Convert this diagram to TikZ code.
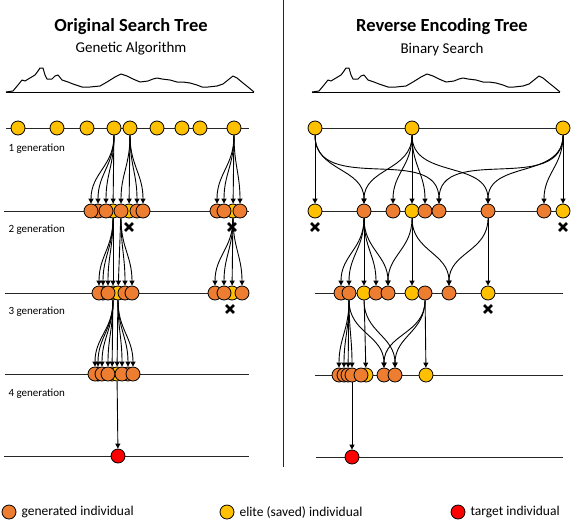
\documentclass[tikz,border=0pt]{standalone}
\usepackage{fontspec}
\setmainfont{Carlito}
\usetikzlibrary{arrows.meta,shapes.misc}
\definecolor{orgC}{HTML}{ED7D31}
\definecolor{yelC}{HTML}{FFC000}
\definecolor{redC}{HTML}{FF0000}
\begin{document}
\begin{tikzpicture}[x=1pt,y=1pt,
 ind/.style={circle,draw=black,line width=0.8pt,minimum size=14pt,inner sep=0pt},
 gen/.style={ind,fill=orgC}, eli/.style={ind,fill=yelC}, tgt/.style={ind,fill=redC},
 arr/.style={-{Triangle[length=5pt,width=5pt]},line width=0.9pt},
 kid/.style={arr,out=-90,in=90,looseness=1.1},
 row/.style={line width=1pt,draw=black!85},
 xmark/.style={cross out,draw=black,line width=2.8pt,minimum size=5pt,inner sep=0pt},
 lab/.style={anchor=west,font=\fontsize{11}{13}\selectfont},
 leg/.style={anchor=west,font=\fontsize{13.5}{16}\selectfont},
 ttl/.style={font=\bfseries\fontsize{18.5}{22}\selectfont},
 sub/.style={font=\fontsize{15}{18}\selectfont},
 land/.style={line width=1pt,line join=round}]
\useasboundingbox (0,0) rectangle (572,-520);

% titles
\node[ttl] (t1) at (131,-27) {Original Search Tree};
\node[sub] (s1) at (131,-49) {Genetic Algorithm};
\node[ttl] (t2) at (442,-27) {Reverse Encoding Tree};
\node[sub] (s2) at (442,-49) {Binary Search};

% landscapes
\foreach \dx in {0,306}{
\begin{scope}[xshift=\dx pt]
\draw[land] plot coordinates {(6,-92) (13,-91) (18,-85) (22,-80) (25,-81) (30,-78) (35,-75) (38,-71) (40,-68) (43,-68) (45,-75) (47,-79) (52,-79) (55,-76) (58,-75) (62,-80) (68,-82) (73,-84) (82,-87) (90,-87) (100,-86) (107,-82) (115,-77) (121,-74) (127,-76) (133,-79) (140,-82) (148,-81) (153,-79) (157,-78) (162,-79) (170,-80) (177,-82) (183,-82) (190,-83) (197,-85) (202,-87) (208,-87) (217,-86) (223,-84) (228,-80) (233,-76) (237,-78) (243,-83) (248,-87) (254,-92)};
\draw[land] (6,-92) -- (254,-92);
\end{scope}}

% divider
\coordinate (dv1) at (283,0); \coordinate (dv2) at (283,-467);
\draw[line width=1pt,black!85] (dv1) -- (dv2);

% generation rows (left)
\coordinate (la1) at (6,-128); \coordinate (lb1) at (249,-128);
\coordinate (la2) at (4,-211); \coordinate (lb2) at (249,-211);
\coordinate (la3) at (5,-293); \coordinate (lb3) at (249,-293);
\coordinate (la4) at (5,-374); \coordinate (lb4) at (249,-374);
\coordinate (la5) at (4,-456); \coordinate (lb5) at (249,-456);
\foreach \i in {1,...,5}{\draw[row] (la\i) -- (lb\i);}
% rows (right)
\coordinate (ra1) at (315,-128); \coordinate (rb1) at (563,-128);
\coordinate (ra2) at (315,-211); \coordinate (rb2) at (563,-211);
\coordinate (ra3) at (315,-293); \coordinate (rb3) at (563,-293);
\coordinate (ra4) at (315,-375); \coordinate (rb4) at (563,-375);
\coordinate (ra5) at (316,-457); \coordinate (rb5) at (563,-457);
\foreach \i in {1,...,5}{\draw[row] (ra\i) -- (rb\i);}

% generation labels
\node[lab] (g1) at (5,-149) {1 generation};
\node[lab] (g2) at (5,-230) {2 generation};
\node[lab] (g3) at (5,-312) {3 generation};
\node[lab] (g4) at (5,-394) {4 generation};

% crosses
\node[xmark] (x1) at (129,-227) {};
\node[xmark] (x2) at (232,-227) {};
\node[xmark] (x3) at (230,-309) {};
\node[xmark] (x4) at (315,-227) {};
\node[xmark] (x5) at (563,-227) {};
\node[xmark] (x6) at (488,-309) {};

% ===== LEFT: generation 1
\node[eli] (A1) at (18,-128) {};
\node[eli] (A2) at (57,-128) {};
\node[eli] (A3) at (87,-128) {};
\node[eli] (A4) at (114,-128) {};
\node[eli] (A5) at (130,-128) {};
\node[eli] (A6) at (157,-128) {};
\node[eli] (A7) at (182,-128) {};
\node[eli] (A8) at (200,-128) {};
\node[eli] (A9) at (234,-128) {};
% generation 2
\node[eli] (B4) at (113,-211) {};
\node[eli] (B6) at (129,-211) {};
\node[eli] (B11) at (233,-211) {};
\node[gen] (B2) at (98,-211) {};
\node[gen] (B1) at (91,-211) {};
\node[gen] (B3) at (106,-211) {};
\node[gen] (B5) at (121,-211) {};
\node[gen] (B7) at (137,-211) {};
\node[gen] (B8) at (143,-211) {};
\node[gen] (B9) at (217,-211) {};
\node[gen] (B10) at (224,-211) {};
\node[gen] (B12) at (240,-211) {};
% generation 3
\node[eli] (C4) at (113,-293) {};
\node[eli] (C5) at (118,-293) {};
\node[eli] (C10) at (232,-293) {};
\node[gen] (C2) at (103,-293) {};
\node[gen] (C1) at (99,-293) {};
\node[gen] (C3) at (108,-293) {};
\node[gen] (C6) at (125,-293) {};
\node[gen] (C7) at (132,-293) {};
\node[gen] (C8) at (215,-293) {};
\node[gen] (C9) at (224,-293) {};
\node[gen] (C11) at (242,-293) {};
% generation 4
\node[eli] (D5) at (112,-374) {};
\node[eli] (D6) at (117,-374) {};
\node[gen] (D2) at (98,-374) {};
\node[gen] (D1) at (95,-374) {};
\node[gen] (D3) at (102,-374) {};
\node[gen] (D4) at (108,-374) {};
\node[gen] (D8) at (128,-374) {};
\node[gen] (D7) at (122,-374) {};
\node[gen] (D9) at (133,-374) {};
% target
\node[tgt] (E1) at (118,-456) {};

% left connectors
\draw[kid] (A4) to (B1); \draw[kid] (A4) to (B2); \draw[kid] (A4) to (B3);
\draw[arr] (A4) -- (B4);
\draw[kid] (A5) to (B5); \draw[arr] (A5) -- (B6);
\draw[kid] (A5) to (B7); \draw[kid] (A5) to (B8);
\draw[kid] (A9) to (B9); \draw[kid] (A9) to (B10);
\draw[arr] (A9) -- (B11); \draw[kid] (A9) to (B12);

\draw[kid] (B4) to (C1); \draw[kid] (B4) to (C2); \draw[kid] (B4) to (C3);
\draw[arr] (B4) -- (C4);
\draw[arr] (B5) -- (C5); \draw[kid] (B5) to (C6); \draw[kid] (B5) to (C7);
\draw[kid] (B11) to (C8); \draw[kid] (B11) to (C9);
\draw[arr] (B11) -- (C10); \draw[kid] (B11) to (C11);

\draw[kid] (C4) to (D1); \draw[kid] (C4) to (D2); \draw[kid] (C4) to (D3);
\draw[kid] (C4) to (D4); \draw[arr] (C4) -- (D5);
\draw[arr] (C5) -- (D6); \draw[kid] (C5) to (D7); \draw[kid] (C5) to (D8);
\draw[kid] (C5) to (D9);
\draw[arr] (D6) -- (E1);

% ===== RIGHT: generation 1
\node[eli] (P1) at (315,-128) {};
\node[eli] (P2) at (412,-128) {};
\node[eli] (P3) at (563,-128) {};
% generation 2
\node[eli] (Q1) at (315,-211) {};
\node[gen] (Q2) at (364,-211) {};
\node[gen] (Q3) at (393,-211) {};
\node[eli] (Q4) at (412,-211) {};
\node[gen] (Q5) at (425,-211) {};
\node[gen] (Q6) at (439,-211) {};
\node[gen] (Q7) at (488,-211) {};
\node[gen] (Q8) at (544,-211) {};
\node[eli] (Q9) at (563,-211) {};
% generation 3
\node[gen] (R1) at (341,-293) {};
\node[gen] (R2) at (349,-293) {};
\node[eli] (R3) at (364,-293) {};
\node[gen] (R4) at (376,-293) {};
\node[gen] (R5) at (388,-293) {};
\node[eli] (R6) at (412,-293) {};
\node[gen] (R7) at (425,-293) {};
\node[gen] (R8) at (449,-293) {};
\node[eli] (R9) at (488,-293) {};
% generation 4
\node[eli] (S6) at (366,-375) {};
\node[gen] (S1) at (339,-375) {};
\node[gen] (S2) at (344,-375) {};
\node[gen] (S3) at (348,-375) {};
\node[gen] (S4) at (352,-375) {};
\node[gen] (S5) at (361,-375) {};
\node[gen] (S7) at (384,-375) {};
\node[gen] (S8) at (395,-375) {};
\node[eli] (S9) at (426,-375) {};
% target
\node[tgt] (T1) at (352,-457) {};

% right connectors
\draw[arr] (P1) -- (Q1); \draw[kid] (P1) to (Q2); \draw[kid] (P1) to (Q6);
\draw[kid] (P2) to (Q2); \draw[kid] (P2) to (Q3); \draw[arr] (P2) -- (Q4);
\draw[kid] (P2) to (Q5); \draw[kid] (P2) to (Q7);
\draw[kid] (P3) to (Q6); \draw[kid] (P3) to (Q7); \draw[kid] (P3) to (Q8);
\draw[arr] (P3) -- (Q9);

\draw[kid] (Q2) to (R1); \draw[kid] (Q2) to (R2); \draw[arr] (Q2) -- (R3);
\draw[kid] (Q2) to (R4); \draw[kid] (Q2) to (R5);
\draw[kid] (Q4) to (R5); \draw[arr] (Q4) -- (R6); \draw[kid] (Q4) to (R8);
\draw[kid] (Q7) to (R8); \draw[arr] (Q7) -- (R9);

\draw[kid] (R2) to (S1); \draw[kid] (R2) to (S2); \draw[arr] (R2) -- (S3);
\draw[kid] (R2) to (S4); \draw[kid] (R2) to (S7);
\draw[arr] (R3) -- (S6); \draw[kid] (R3) to (S8);
\draw[kid] (R7) to (S7); \draw[kid] (R7) to (S8); \draw[arr] (R7) -- (S9);
\draw[arr] (S4) -- (T1);

% legend
\node[gen] (k1) at (9,-512) {};
\node[leg] (k1t) at (18,-512) {generated individual};
\node[eli] (k2) at (227,-512) {};
\node[leg] (k2t) at (236,-512) {elite (saved) individual};
\node[tgt] (k3) at (458,-512) {};
\node[leg] (k3t) at (467,-512) {target individual};
\end{tikzpicture}
\end{document}
